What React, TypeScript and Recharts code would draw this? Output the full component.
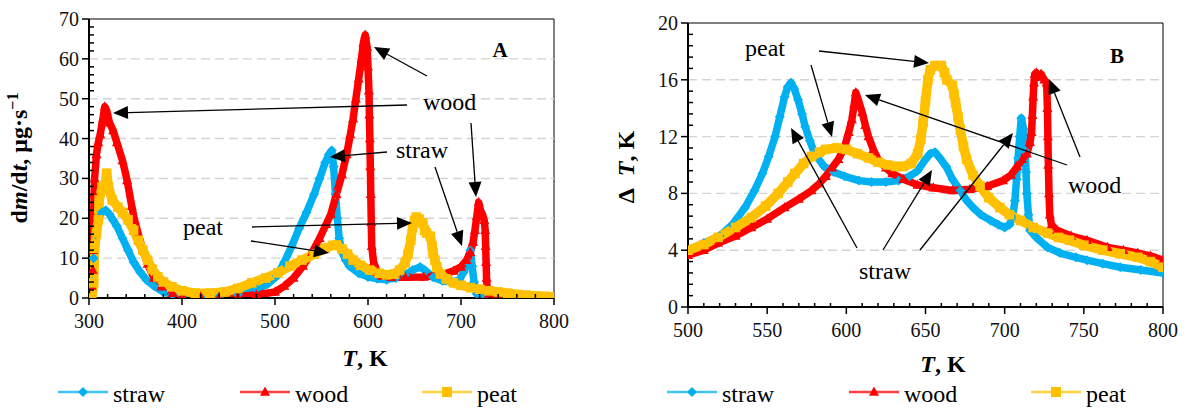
import React from "react";
import { LineChart, Line, XAxis, YAxis, ReferenceLine, ReferenceArea } from "recharts";

type Pt = [number, number];

// ---- panel A: dm/dt, µg/s vs T, K ----
const massStraw: Pt[] = [
  [303, 0], [304, 4], [305, 10], [307, 16], [310, 20], [314, 21.5], [318, 22], [322, 21], [326, 19.5],
  [330, 18], [336, 15], [342, 12], [348, 9], [355, 6.5], [362, 4.5], [370, 3], [380, 1.5], [390, 0.8],
  [400, 0.4], [420, 0.2], [440, 0.3], [460, 0.8], [480, 2.2], [492, 3.5], [502, 5.5], [510, 9],
  [518, 13], [526, 17.5], [534, 21.5], [542, 26], [548, 30], [554, 34], [558, 36], [561, 37], [563, 33],
  [565, 26], [567, 20], [569, 15], [572, 11.5], [576, 9.5], [580, 8], [590, 6.2], [600, 5.3], [610, 4.8],
  [620, 4.6], [630, 5], [640, 5.8], [648, 7], [656, 7.8], [662, 6.8], [670, 5.2], [680, 4.3], [690, 4],
  [698, 4.5], [703, 6.5], [707, 9], [710, 12], [712, 8], [714, 4], [717, 1], [725, 0.5], [750, 0.2], [800, 0.1],
];

const massWood: Pt[] = [
  [302, 0], [303, 3], [304, 7], [304.5, 12], [305, 20], [305.5, 26], [306, 30], [308, 36], [310, 39],
  [312, 41], [315, 45], [317, 48], [319, 47], [322, 44], [326, 42], [330, 39], [336, 34.5], [341, 29.5],
  [346, 23], [349, 19.5], [353, 16], [358, 12], [363, 8.5], [370, 5], [378, 2.8], [390, 1.2], [400, 0.6],
  [420, 0.3], [440, 0.2], [460, 0.3], [480, 0.8], [500, 1.5], [510, 3], [520, 5], [530, 8], [540, 11.5],
  [548, 15], [555, 18.5], [560, 21], [566, 26], [572, 31], [577, 36], [581, 41], [584, 45], [587, 50],
  [590, 55], [593, 60], [595, 64], [597, 66], [599, 63], [600, 58], [601, 52], [601.5, 46], [602, 40],
  [602.5, 33], [603, 26], [603.5, 19], [604, 13], [606, 9], [610, 6.5], [615, 5.5], [625, 5.2], [640, 5.2],
  [660, 5.3], [680, 5.8], [692, 6.8], [700, 7.8], [706, 9.5], [710, 11.5], [713, 14], [715, 17], [717, 20.5],
  [719, 24], [721, 22], [723, 21], [725, 19.5], [726, 17], [726.5, 13], [727, 9], [727.5, 5], [728, 2.5],
  [730, 1], [740, 0.5], [760, 0.3], [800, 0.1],
];

const massPeat: Pt[] = [
  [303, 0], [305, 3.8], [306, 12.5], [308, 16.3], [310, 19.6], [311, 24.6], [314, 27.8], [317, 28],
  [319, 31.3], [321, 27.8], [325, 24.6], [331, 22.8], [336, 21.5], [342, 19.6], [348, 17], [353, 14.5],
  [358, 12], [363, 9.5], [368, 7.2], [374, 5.3], [380, 4], [389, 2.8], [400, 1.8], [414, 1.2], [430, 1.2],
  [446, 1.5], [460, 2.4], [475, 3.8], [490, 5], [503, 6.3], [516, 8], [529, 9.5], [542, 11], [554, 12.5],
  [562, 13.2], [566, 13.3], [572, 12.3], [578, 11], [584, 9.5], [592, 8.2], [602, 7], [612, 6.2], [620, 5.8],
  [628, 6], [634, 7], [640, 8.8], [643, 11], [646, 14.5], [648, 17.8], [650, 19.5], [652, 20.3], [655, 19.8],
  [659, 18.8], [661, 17], [663, 16.3], [667, 15.5], [669, 13], [670, 11.3], [672, 9.5], [674, 7.8], [678, 6],
  [684, 4.8], [692, 3.8], [700, 3.2], [710, 2.6], [720, 2.2], [730, 1.8], [740, 1.5], [750, 1.2], [760, 0.9],
  [770, 0.7], [780, 0.5], [790, 0.4], [800, 0.3],
];

// ---- panel B: delta T, K vs T, K ----
const dtStraw: Pt[] = [
  [500, 4], [510, 4.5], [520, 5], [528, 5.8], [536, 7], [542, 8.2], [547, 9.4], [551, 10.6], [555, 12],
  [558, 13.4], [561, 14.8], [563, 15.5], [565, 15.8], [567, 15.4], [569.5, 14.6], [572, 13.6], [574, 12.7],
  [577, 11.7], [580, 10.8], [586, 9.9], [592, 9.5], [599, 9.2], [608, 8.9], [616, 8.8], [625, 8.8], [633, 8.9],
  [640, 9.2], [645, 9.6], [650, 10.4], [653, 10.8], [656, 10.9], [659, 10.5], [663, 9.9], [667, 9], [672, 8.2],
  [676, 7.5], [680, 7], [685, 6.5], [691, 6.1], [696, 5.8], [700, 5.6], [703, 5.8], [705, 6.3], [706.5, 7.5],
  [707.5, 9], [708.5, 10.5], [709.5, 12], [710.5, 13.3], [712, 12.5], [713, 11], [713.5, 9.5], [714, 8],
  [715, 6.5], [716, 5.4], [720, 4.9], [727, 4.2], [735, 3.8], [745, 3.5], [752, 3.3], [762, 3.05], [773, 2.8],
  [786, 2.6], [800, 2.4],
];

const dtWood: Pt[] = [
  [500, 3.65], [510, 4], [519, 4.5], [530, 5], [540, 5.6], [550, 6.2], [561, 7], [570, 7.6], [578, 8.2],
  [583, 8.7], [587, 9.2], [591, 9.8], [595, 10.4], [599, 11.3], [601.5, 12.3], [603.5, 13.2], [605, 14.3],
  [606, 15.1], [607.5, 14.6], [610, 13.7], [612, 12.8], [614, 12], [617, 11.1], [620, 10.4], [625, 9.8],
  [629, 9.4], [636, 9], [645, 8.6], [655, 8.4], [667, 8.2], [678, 8.3], [689, 8.5], [699, 8.9], [704, 9.3],
  [708, 9.9], [711, 10.4], [714, 10.8], [716, 11.6], [717, 12.3], [717.5, 13.5], [718, 14.8], [718.5, 15.8],
  [719, 16.4], [720, 16.5], [721.5, 16.2], [723, 16.4], [725, 16], [726.5, 15.8], [727, 14], [727.3, 12],
  [727.6, 10], [728, 8], [728.5, 6.5], [729.5, 5.8], [733, 5.4], [742, 5], [752, 4.7], [765, 4.2], [775, 4],
  [784, 3.8], [792, 3.6], [800, 3.3],
];

const dtPeat: Pt[] = [
  [500, 4], [510, 4.4], [519, 4.9], [530, 5.6], [540, 6.3], [549, 7.1], [557, 8], [563, 8.8], [567.5, 9.4],
  [573, 10.1], [578, 10.6], [583, 10.9], [587, 11.1], [594, 11.2], [600, 11.1], [607, 10.8], [614, 10.5],
  [620, 10.2], [626, 10], [631, 9.9], [636, 9.9], [641, 10.1], [645, 10.8], [647, 11.8], [648.5, 13],
  [650, 14.5], [651.5, 16], [653, 16.7], [656, 17], [660, 17], [662, 16.5], [663.5, 16], [667, 15.6],
  [668, 15], [669, 14.4], [670.5, 13.4], [672, 12.5], [674, 11.3], [676, 10.4], [680, 9.3], [684.5, 8.5],
  [690, 7.7], [697, 7], [703, 6.5], [710, 6.1], [718, 5.6], [727, 5.2], [734, 4.9], [741, 4.7], [750, 4.35],
  [762, 4], [773, 3.75], [784, 3.5], [792, 3.2], [800, 2.8],
];

const xTicksA = [300, 320, 340, 360, 380, 400, 420, 440, 460, 480, 500, 520, 540, 560, 580, 600, 620, 640, 660, 680, 700, 720, 740, 760, 780, 800];
const yTicksA = Array.from({ length: 36 }, (_, i) => i * 2);
const gridA = [10, 20, 30, 40, 50, 60];
const xTicksB = Array.from({ length: 31 }, (_, i) => 500 + i * 10);
const yTicksB = Array.from({ length: 26 }, (_, i) => i * 0.8);
const gridB = [4, 8, 12, 16];

const COLORS = { straw: "#00B0F0", wood: "#FF0000", peat: "#FFC000" };
const SERIF = { fontFamily: "Liberation Serif" };

const rows = (pts: Pt[]) => pts.map(([t, v]) => ({ t, v }));

const markerPath = (kind: string, cx: number, cy: number, s: number) => {
  if (kind === "diamond") return `M${cx},${cy - s}L${cx + s},${cy}L${cx},${cy + s}L${cx - s},${cy}Z`;
  if (kind === "triangle") return `M${cx},${cy - s * 1.1}L${cx + s},${cy + s * 0.75}L${cx - s},${cy + s * 0.75}Z`;
  return `M${cx - s},${cy - s}L${cx + s},${cy - s}L${cx + s},${cy + s}L${cx - s},${cy + s}Z`;
};

const marker = (kind: string, color: string, s: number) => (p: any) => {
  const { cx, cy, index } = p;
  if (cx == null || cy == null) return <g key={`m-${index}`} />;
  return <path key={`m-${index}`} d={markerPath(kind, cx, cy, s)} fill={color} />;
};

const isMajor = (v: number, step: number) => Math.abs(v / step - Math.round(v / step)) < 1e-6;

const XTick = (step: number) => (p: any) => {
  const { x, y, payload } = p;
  const v = payload.value;
  const major = isMajor(v, step);
  return (
    <g>
      <line x1={x} x2={x} y1={y} y2={major ? y + 7 : y - 4} stroke="#000" strokeWidth={1.5} />
      {major && (
        <text x={x} y={y + 30} textAnchor="middle" style={SERIF} fontSize={20} fill="#111">
          {Math.round(v)}
        </text>
      )}
    </g>
  );
};

const YTick = (step: number) => (p: any) => {
  const { x, y, payload } = p;
  const v = payload.value;
  const major = isMajor(v, step);
  return (
    <g>
      <line x1={major ? x - 7 : x} x2={major ? x : x + 5} y1={y} y2={y} stroke="#000" strokeWidth={1.5} />
      {major && (
        <text x={x - 10} y={y} dy="0.35em" textAnchor="end" style={SERIF} fontSize={20} fill="#111">
          {Math.round(v)}
        </text>
      )}
    </g>
  );
};

function Panel(props: {
  width: number;
  margin: any;
  xDomain: [number, number];
  yDomain: [number, number];
  xTicks: number[];
  yTicks: number[];
  xStep: number;
  yStep: number;
  grid: number[];
  straw: Pt[];
  wood: Pt[];
  peat: Pt[];
}) {
  const { width, margin, xDomain, yDomain, xTicks, yTicks, xStep, yStep, grid } = props;
  return (
    <LineChart width={width} height={408} margin={margin}>
      <ReferenceArea x1={xDomain[0]} x2={xDomain[1]} y1={yDomain[0]} y2={yDomain[1]} fill="none" stroke="#000" strokeWidth={1} />
      {grid.map((g) => (
        <ReferenceLine key={`g-${g}`} y={g} stroke="#d4d4d4" strokeWidth={1.4} strokeDasharray="9 5" />
      ))}
      <XAxis
        dataKey="t"
        type="number"
        domain={xDomain}
        ticks={xTicks}
        interval={0}
        tickSize={0}
        tickMargin={0}
        tickLine={false}
        tick={XTick(xStep)}
        axisLine={{ stroke: "#000", strokeWidth: 2 }}
        height={40}
        allowDataOverflow
      />
      <YAxis
        type="number"
        domain={yDomain}
        ticks={yTicks}
        interval={0}
        tickSize={0}
        tickMargin={0}
        tickLine={false}
        tick={YTick(yStep)}
        axisLine={{ stroke: "#000", strokeWidth: 2 }}
        width={60}
        allowDataOverflow
      />
      <Line data={rows(props.straw)} dataKey="v" type="linear" stroke={COLORS.straw} strokeWidth={7.5} strokeLinejoin="round"
        dot={marker("diamond", COLORS.straw, 5)} activeDot={false} isAnimationActive={false} />
      <Line data={rows(props.wood)} dataKey="v" type="linear" stroke={COLORS.wood} strokeWidth={7.5} strokeLinejoin="round"
        dot={marker("triangle", COLORS.wood, 5)} activeDot={false} isAnimationActive={false} />
      <Line data={rows(props.peat)} dataKey="v" type="linear" stroke={COLORS.peat} strokeWidth={9.5} strokeLinejoin="round"
        dot={marker("square", COLORS.peat, 4.8)} activeDot={false} isAnimationActive={false} />
    </LineChart>
  );
}

function Arrow({ x1, y1, x2, y2 }: { x1: number; y1: number; x2: number; y2: number }) {
  const dx = x2 - x1;
  const dy = y2 - y1;
  const len = Math.hypot(dx, dy);
  const ux = dx / len;
  const uy = dy / len;
  const hl = 15;
  const hw = 6.5;
  const bx = x2 - ux * hl;
  const by = y2 - uy * hl;
  return (
    <g>
      <line x1={x1} y1={y1} x2={bx} y2={by} stroke="#000" strokeWidth={1.3} />
      <polygon points={`${x2},${y2} ${bx - uy * hw},${by + ux * hw} ${bx + uy * hw},${by - ux * hw}`} fill="#000" />
    </g>
  );
}

const arrowsA = [
  [407, 105, 113, 113], [427, 76, 374, 47], [471, 123, 476, 197],
  [387, 152, 330, 157], [435, 167, 462, 246],
  [252, 227, 412, 223], [251, 241, 329, 253],
];
const arrowsB = [
  [819, 51, 929, 63], [811, 65, 832, 137],
  [1067, 165, 865, 95], [1080, 157, 1049, 79],
  [857, 248, 791, 128], [883, 250, 932, 170], [920, 250, 1013, 133],
];

function LegendItems({ x0 }: { x0: number }) {
  const items: [string, string, string][] = [
    ["straw", COLORS.straw, "diamond"],
    ["wood", COLORS.wood, "triangle"],
    ["peat", COLORS.peat, "square"],
  ];
  return (
    <g>
      {items.map(([name, color, kind], i) => {
        const lx = x0 + i * 182;
        return (
          <g key={name}>
            <line x1={lx} x2={lx + 50} y1={392} y2={392} stroke={color} strokeOpacity={0.75} strokeWidth={2.5} />
            <path d={markerPath(kind, lx + 25, 392, 5)} fill={color} />
            <text x={lx + 55} y={402} style={SERIF} fontSize={24} fill="#000">{name}</text>
          </g>
        );
      })}
    </g>
  );
}

export default function App() {
  const txt = { style: SERIF, fontSize: 24, fill: "#000" };
  return (
    <div style={{ position: "absolute", left: 0, top: 0, width: 1189, height: 408, background: "#fff" }}>
      <div style={{ position: "absolute", left: 0, top: 0 }}>
        <Panel width={580} margin={{ top: 19, right: 26, left: 29, bottom: 70 }}
          xDomain={[300, 800]} yDomain={[0, 70]} xTicks={xTicksA} yTicks={yTicksA} xStep={100} yStep={10}
          grid={gridA} straw={massStraw} wood={massWood} peat={massPeat} />
      </div>
      <div style={{ position: "absolute", left: 580, top: 0 }}>
        <Panel width={609} margin={{ top: 23, right: 26, left: 48, bottom: 61 }}
          xDomain={[500, 800]} yDomain={[0, 20]} xTicks={xTicksB} yTicks={yTicksB} xStep={50} yStep={4}
          grid={gridB} straw={dtStraw} wood={dtWood} peat={dtPeat} />
      </div>
      <svg width={1189} height={408} style={{ position: "absolute", left: 0, top: 0, pointerEvents: "none" }}>
        {/* panel A annotations */}
        <text x={500} y={57} textAnchor="middle" style={SERIF} fontSize={21} fontWeight="bold">A</text>
        <text x={423} y={110} {...txt}>wood</text>
        <text x={396} y={158} {...txt}>straw</text>
        <text x={183} y={235} {...txt}>peat</text>
        {arrowsA.map(([a, b, c, d], i) => <Arrow key={`aa-${i}`} x1={a} y1={b} x2={c} y2={d} />)}
        {/* panel B annotations */}
        <text x={1117} y={63} textAnchor="middle" style={SERIF} fontSize={21} fontWeight="bold">B</text>
        <text x={745} y={56} {...txt}>peat</text>
        <text x={1068} y={193} {...txt}>wood</text>
        <text x={859} y={279} {...txt}>straw</text>
        {arrowsB.map(([a, b, c, d], i) => <Arrow key={`ab-${i}`} x1={a} y1={b} x2={c} y2={d} />)}
        {/* axis titles */}
        <text x={365} y={366} textAnchor="middle" style={SERIF} fontSize={24} fontWeight="bold">
          <tspan fontStyle="italic">T</tspan>, K
        </text>
        <text x={943} y={372} textAnchor="middle" style={SERIF} fontSize={24} fontWeight="bold">
          <tspan fontStyle="italic">T</tspan>, K
        </text>
        <text x={27} y={158} transform="rotate(-90 27 158)" textAnchor="middle" style={SERIF} fontSize={24} fontWeight="bold">
          d<tspan fontStyle="italic">m</tspan>/d<tspan fontStyle="italic">t</tspan>, μg·s<tspan dy={-9} fontSize={16}>−1</tspan>
        </text>
        <text x={634} y={167} transform="rotate(-90 634 167)" textAnchor="middle" style={SERIF} fontSize={24} fontWeight="bold">
          Δ<tspan dx={12} fontStyle="italic">T</tspan>, K
        </text>
        <LegendItems x0={58} />
        <LegendItems x0={667} />
      </svg>
    </div>
  );
}
